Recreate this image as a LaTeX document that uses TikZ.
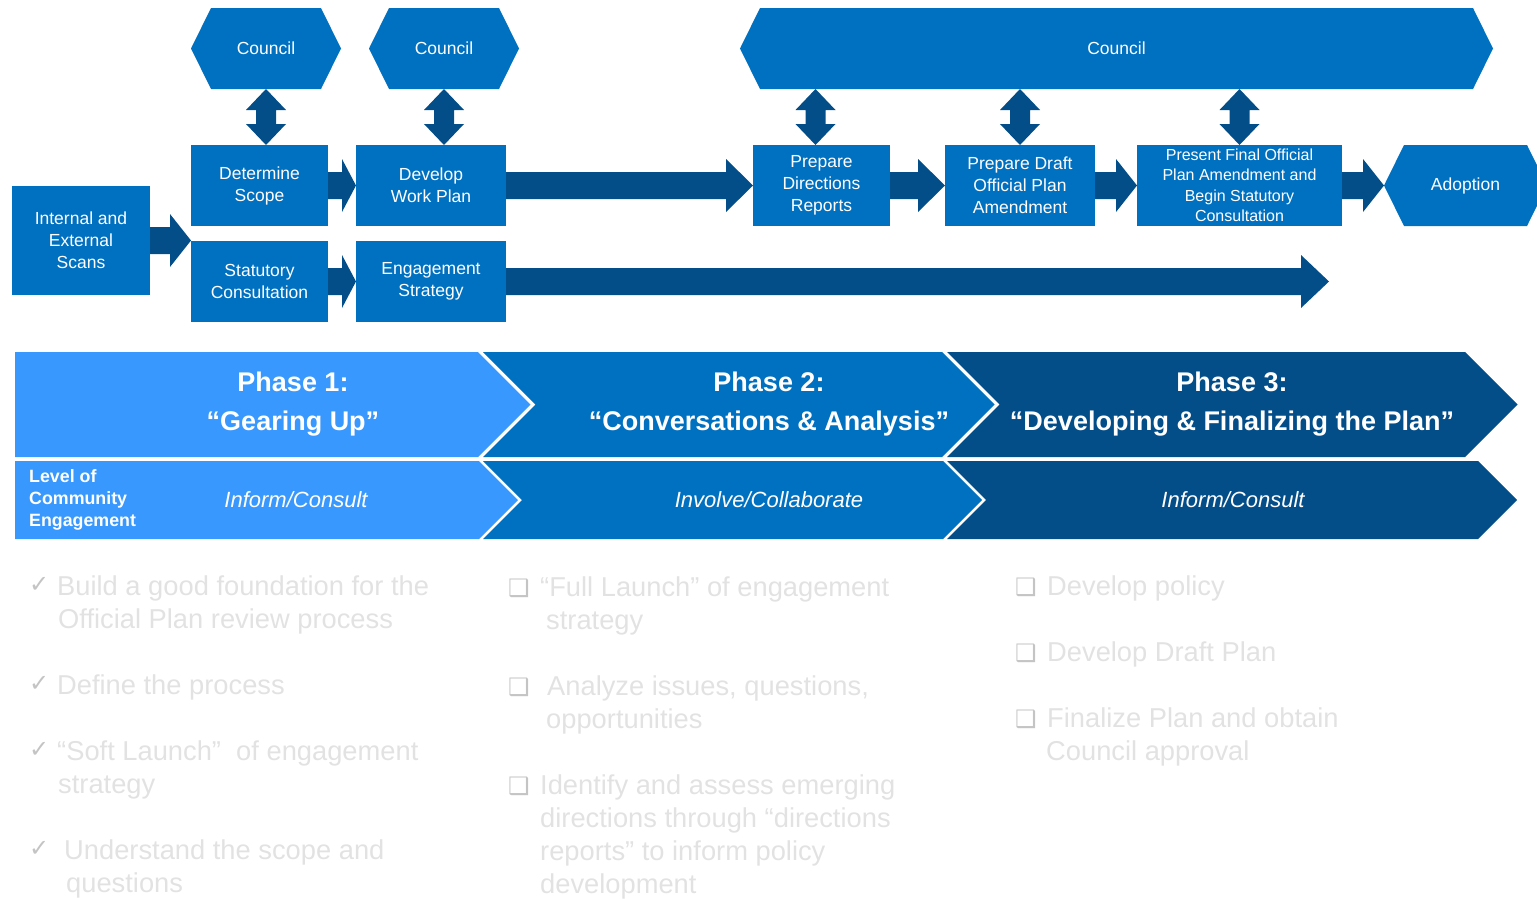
\documentclass[tikz,border=0pt]{standalone}
\usepackage{fontspec}
\setmainfont{Liberation Sans}
\newfontfamily\symbolfont{DejaVu Sans}
\usetikzlibrary{calc,positioning}
\definecolor{boxblue}{RGB}{0,112,192}
\definecolor{arrowblue}{RGB}{3,78,136}
\definecolor{phaseblue}{RGB}{56,152,254}
\definecolor{listgray}{RGB}{226,226,226}
\definecolor{markgray}{RGB}{196,196,196}
\def\boxfont{\fontsize{17.5}{22}\selectfont}
\def\smallboxfont{\fontsize{16}{20.5}\selectfont}
\def\phasefont{\fontsize{27}{39}\selectfont\bfseries}
\def\levelfont{\fontsize{22}{26}\selectfont\itshape}
\def\listfont{\fontsize{27.3}{33}\selectfont}
\def\chevron(#1,#2,#3,#4,#5,#6){\fill[#1] (#2,#4) -- (#3,#4) -- ({#3+(#5-#4)/2},{(#4+#5)/2}) -- (#3,#5) -- (#2,#5) -- ({#2+#6*(#5-#4)/2},{(#4+#5)/2}) -- cycle;}
\tikzset{
  stepbox/.style={fill=boxblue, text=white, align=center, font=\boxfont, inner sep=0pt, outer sep=0pt},
  hexbox/.style={text=white, align=center, font=\boxfont, inner sep=0pt, outer sep=0pt,
    path picture={\fill[boxblue] (path picture bounding box.west) -- ([xshift=20pt]path picture bounding box.north west) -- ([xshift=-20pt]path picture bounding box.north east) -- (path picture bounding box.east) -- ([xshift=-20pt]path picture bounding box.south east) -- ([xshift=20pt]path picture bounding box.south west) -- cycle;}},
  blockarrow/.style={fill=arrowblue, to path={let \p1=(\tikztostart), \p2=(\tikztotarget) in
    (\x1,\y1+13.5pt) -- (\x2-#1,\y1+13.5pt) -- (\x2-#1,\y1+26.5pt) -- (\x2,\y1) -- (\x2-#1,\y1-26.5pt) -- (\x2-#1,\y1-13.5pt) -- (\x1,\y1-13.5pt) -- cycle}},
  blockarrow/.default=14pt,
  dblarrow/.style={fill=arrowblue, to path={let \p1=(\tikztostart), \p2=(\tikztotarget) in
    (\x1,\y1) -- (\x1+20pt,\y1-21pt) -- (\x1+10pt,\y1-21pt) -- (\x1+10pt,\y2+21pt) -- (\x1+20pt,\y2+21pt) -- (\x1,\y2) -- (\x1-20pt,\y2+21pt) -- (\x1-10pt,\y2+21pt) -- (\x1-10pt,\y1-21pt) -- (\x1-20pt,\y1-21pt) -- cycle}},
  phasetext/.style={text=white, align=center, font=\phasefont},
  leveltext/.style={text=white, font=\levelfont},
  listtext/.style={text=listgray, font=\listfont, anchor=base west, inner sep=0pt},
  listmark/.style={text=markgray, font=\symbolfont\fontsize{24}{24}\selectfont, anchor=base west, inner sep=0pt}
}

\begin{document}
\begin{tikzpicture}[x=1pt,y=-1pt]
\useasboundingbox (0,0) rectangle (1537,898);
% process boxes
\node[stepbox, minimum width=138pt, minimum height=109pt] (scans) at (81,240.5) {Internal and\\External\\Scans};
\node[stepbox, minimum width=137pt, minimum height=81pt] (scope) at (259.5,185.5) {Determine\\Scope};
\node[stepbox, minimum width=150pt, minimum height=81pt] (plan) at (431,185.5) {Develop\\Work Plan};
\node[stepbox, minimum width=137pt, minimum height=81pt] (statutory) at (259.5,281.5) {Statutory\\Consultation};
\node[stepbox, minimum width=150pt, minimum height=81pt] (engage) at (431,281.5) {Engagement\\Strategy};
\node[stepbox, minimum width=137pt, minimum height=81pt] (dirs) at (821.5,185.5) {Prepare\\Directions\\Reports};
\node[stepbox, minimum width=150pt, minimum height=81pt] (draft) at (1020,185.5) {Prepare Draft\\Official Plan\\Amendment};
\node[stepbox, minimum width=205pt, minimum height=81pt, font=\smallboxfont] (present) at (1239.5,185.5) {Present Final Official\\Plan Amendment and\\Begin Statutory\\Consultation};
\node[hexbox, minimum width=163pt, minimum height=81pt] (adopt) at (1465.5,185.5) {Adoption};
% council
\node[hexbox, minimum width=150pt, minimum height=81pt] (council1) at (266,48.5) {Council};
\node[hexbox, minimum width=150pt, minimum height=81pt] (council2) at (444,48.5) {Council};
\node[hexbox, minimum width=753pt, minimum height=81pt] (council3) at (1116.5,48.5) {Council};
\coordinate (split) at (191,240.5);
\coordinate (lineend) at (1329,281.5);
% arrows
\path[blockarrow=21pt] (scans.east) to (split);
\path[blockarrow] (scope.east) to (plan.west);
\path[blockarrow] (statutory.east) to (engage.west);
\path[blockarrow=27pt] (plan.east) to (dirs.west);
\path[blockarrow=27pt] (dirs.east) to (draft.west);
\path[blockarrow=21pt] (draft.east) to (present.west);
\path[blockarrow=21pt] (present.east) to (adopt.west);
\path[blockarrow=28pt] (engage.east) to (lineend);
\path[dblarrow] (council1.south) to (council1.south |- scope.north);
\path[dblarrow] (council2.south) to (council2.south |- plan.north);
\path[dblarrow] ($(dirs.north |- council3.south)+(-6,0)$) to ($(dirs.north)+(-6,0)$);
\path[dblarrow] (draft.north |- council3.south) to (draft.north);
\path[dblarrow] (present.north |- council3.south) to (present.north);
% phases
\chevron(phaseblue,15,478,352,457,0)
\chevron(boxblue,483,942,352,457,1)
\chevron(arrowblue,947,1465,352,457,1)
\chevron(phaseblue,15,479,461,539,0)
\chevron(boxblue,483,943,461,539,1)
\chevron(arrowblue,947,1478,461,539,1)
\node[phasetext] (phase1) at (293,404) {Phase 1:\\“Gearing Up”};
\node[phasetext] (phase2) at (769,404) {Phase 2:\\“Conversations \& Analysis”};
\node[phasetext] (phase3) at (1232,404) {Phase 3:\\“Developing \& Finalizing the Plan”};
\node[text=white, align=left, font=\fontsize{17.8}{22}\selectfont\bfseries, anchor=west, inner sep=0pt] (levelhead) at (29,500) {Level of\\Community\\Engagement};
\node[leveltext] (level1) at (296,500) {Inform/Consult};
\node[leveltext] (level2) at (769,500) {Involve/Collaborate};
\node[leveltext] (level3) at (1233,500) {Inform/Consult};
% phase 1 list
\node[listmark] (m11) at (29,592) {✓};
\node[listtext] (t11) at (57,595) {Build a good foundation for the};
\node[listtext] (t11b) at (58,628) {Official Plan review process};
\node[listmark] (m12) at (29,691) {✓};
\node[listtext] (t12) at (57,694) {Define the process};
\node[listmark] (m13) at (29,757) {✓};
\node[listtext] (t13) at (57,760) {“Soft Launch”\ \ of engagement};
\node[listtext] (t13b) at (58,793) {strategy};
\node[listmark] (m14) at (29,856) {✓};
\node[listtext] (t14) at (64,859) {Understand the scope and};
\node[listtext] (t14b) at (66,892) {questions};
% phase 2 list
\node[listmark] (m21) at (508,596) {❑};
\node[listtext] (t21) at (540,596) {“Full Launch” of engagement};
\node[listtext] (t21b) at (546,629) {strategy};
\node[listmark] (m22) at (508,695) {❑};
\node[listtext] (t22) at (547,695) {Analyze issues, questions,};
\node[listtext] (t22b) at (546,728) {opportunities};
\node[listmark] (m23) at (508,794) {❑};
\node[listtext] (t23) at (540,794) {Identify and assess emerging};
\node[listtext] (t23b) at (540,827) {directions through “directions};
\node[listtext] (t23c) at (540,860) {reports” to inform policy};
\node[listtext] (t23d) at (540,893) {development};
% phase 3 list
\node[listmark] (m31) at (1015,595) {❑};
\node[listtext] (t31) at (1047,595) {Develop policy};
\node[listmark] (m32) at (1015,661) {❑};
\node[listtext] (t32) at (1047,661) {Develop Draft Plan};
\node[listmark] (m33) at (1015,727) {❑};
\node[listtext] (t33) at (1047,727) {Finalize Plan and obtain};
\node[listtext] (t33b) at (1046,760) {Council approval};
\end{tikzpicture}
\end{document}
